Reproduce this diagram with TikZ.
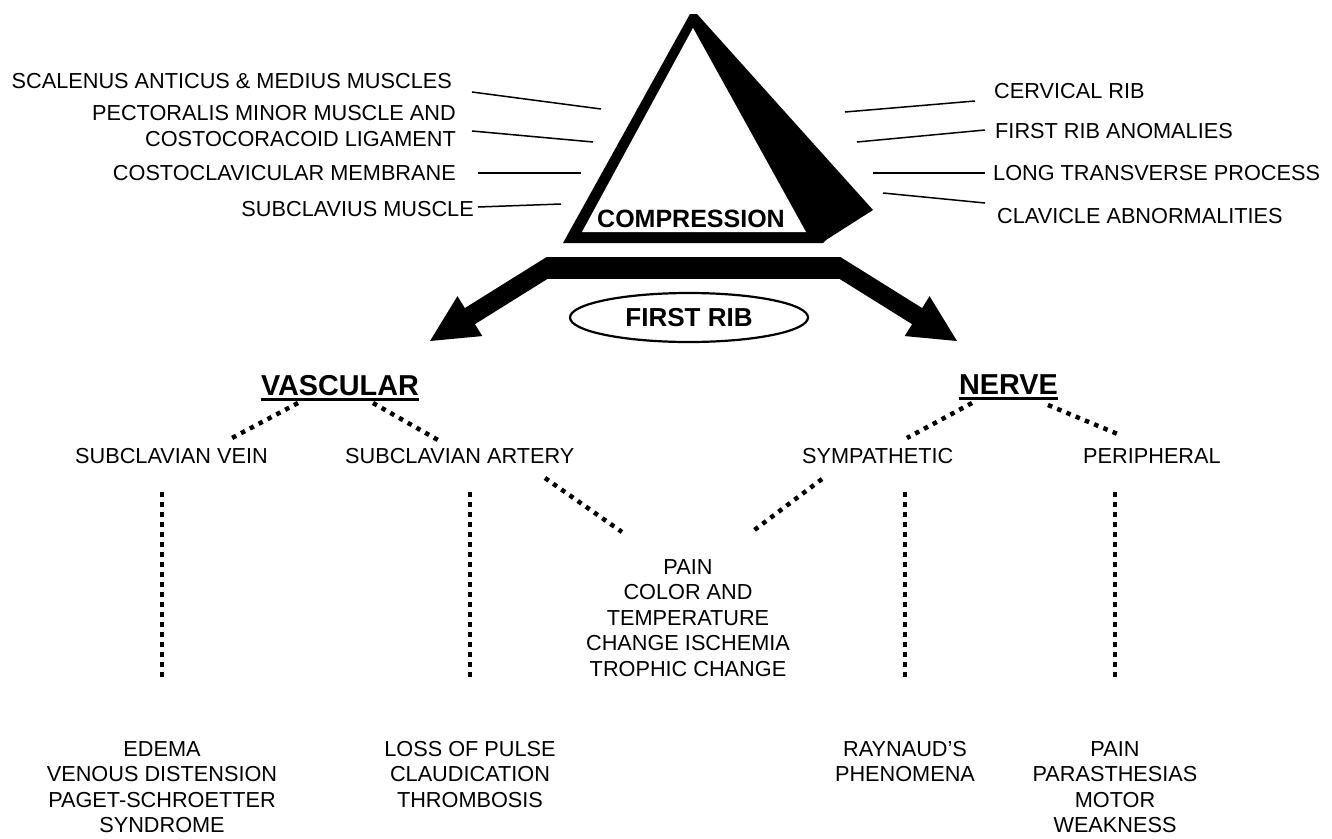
\documentclass[tikz,border=0pt]{standalone}
\usepackage{fontspec}
\setmainfont{Liberation Sans}
\usetikzlibrary{calc,shapes.geometric}
\begin{document}
\begin{tikzpicture}[x=1pt,y=-1pt,
  lbl/.style={inner sep=0pt, font=\fontsize{21.7}{25.5}\selectfont},
  blk/.style={lbl, align=center, anchor=north},
  hdr/.style={inner sep=0pt, font=\bfseries\fontsize{28.8}{30}\selectfont, anchor=base},
  lead/.style={line width=1.5pt},
  dots/.style={line width=4.5pt, dash pattern=on 4.5pt off 5.5pt},
  shaft/.style={line width=19pt},
]
\useasboundingbox (0,0) rectangle (1332,838);
% triangle
\fill (690,14) -- (697,14) -- (873,210) -- (826,240) -- (823,243) -- (563,243) -- cycle;
\fill[white] (693,28) -- (806,232) -- (582,232) -- cycle;
\node[inner sep=0pt, font=\bfseries\fontsize{25}{27}\selectfont, anchor=base] (comp) at (691,227) {COMPRESSION};
% left labels
\node[lbl, anchor=base east] (l1) at (452,88) {SCALENUS ANTICUS \& MEDIUS MUSCLES};
\node[lbl, anchor=base east, align=right] (l2) at (456,146) {PECTORALIS MINOR MUSCLE AND\\COSTOCORACOID LIGAMENT};
\node[lbl, anchor=base east] (l3) at (456,180) {COSTOCLAVICULAR MEMBRANE};
\node[lbl, anchor=base east] (l4) at (474,216) {SUBCLAVIUS MUSCLE};
\coordinate (l1e) at (601,109);
\coordinate (l2e) at (593,142);
\coordinate (l3e) at (581,173);
\coordinate (l4e) at (561,204);
\draw[lead] (472,92) coordinate (l1s) -- (l1e);
\draw[lead] (472,131) coordinate (l2s) -- (l2e);
\draw[lead] (478,173) coordinate (l3s) -- (l3e);
\draw[lead] (478,207) coordinate (l4s) -- (l4e);
% right labels
\node[lbl, anchor=base west] (r1) at (994,98) {CERVICAL RIB};
\node[lbl, anchor=base west] (r2) at (995,138) {FIRST RIB ANOMALIES};
\node[lbl, anchor=base west] (r3) at (993,180) {LONG TRANSVERSE PROCESS};
\node[lbl, anchor=base west] (r4) at (997,223) {CLAVICLE ABNORMALITIES};
\draw[lead] (845,112) coordinate (r1e) -- (975,101) coordinate (r1s);
\draw[lead] (857,142) coordinate (r2e) -- (985,130) coordinate (r2s);
\draw[lead] (873,173) coordinate (r3e) -- (985,173) coordinate (r3s);
\draw[lead] (883,193) coordinate (r4e) -- (985,203) coordinate (r4s);
% bar and arrows
\node[fill, inner sep=0pt, minimum width=293pt, minimum height=22pt] (bar) at (693.5,268) {};
\coordinate (tipL) at (430,341);
\coordinate (tipR) at (957,341);
\coordinate (bl) at (547,268);
\coordinate (br) at (840,268);
\begin{scope}
\clip (0,257) rectangle (1332,838);
\draw[shaft] ($(bl)!-15pt!(tipL)$) -- ($(tipL)!44pt!(bl)$);
\draw[shaft] ($(br)!-15pt!(tipR)$) -- ($(tipR)!44pt!(br)$);
\end{scope}
\coordinate (hbL) at ($(tipL)!47pt!(bl)$);
\fill (tipL) -- ($(hbL)!23.5pt!90:(tipL)$) -- ($(hbL)!23.5pt!-90:(tipL)$) -- cycle;
\coordinate (hbR) at ($(tipR)!47pt!(br)$);
\fill (tipR) -- ($(hbR)!23.5pt!90:(tipR)$) -- ($(hbR)!23.5pt!-90:(tipR)$) -- cycle;
% first rib
\node[ellipse, draw, line width=2.2pt, minimum width=238pt, minimum height=49pt, inner sep=0pt,
  font=\bfseries\fontsize{26}{28}\selectfont] (rib) at (689,317.5) {FIRST RIB};
% headers
\node[hdr] (vasc) at (340,395) {VASCULAR};
\draw[line width=3pt] ($(vasc.base west)+(0,4)$) -- ($(vasc.base east)+(0,4)$);
\node[hdr] (nerve) at (1008.5,394) {NERVE};
\draw[line width=3pt] ($(nerve.base west)+(0,4)$) -- ($(nerve.base east)+(0,4)$);
% middle row
\node[lbl, anchor=base west] (vein) at (75,463) {SUBCLAVIAN VEIN};
\node[lbl, anchor=base west] (artery) at (345,463) {SUBCLAVIAN ARTERY};
\node[lbl, anchor=base west] (symp) at (802,463) {SYMPATHETIC};
\node[lbl, anchor=base west] (periph) at (1083,463) {PERIPHERAL};
\draw[dots] (298,403) -- (232,438);
\draw[dots] (373,403) -- (438,440);
\draw[dots] (972,403) -- (907,438);
\draw[dots] (1048,405) -- (1120,435);
% pain block
\node[blk] (pain) at (688,559) {PAIN\\COLOR AND\\TEMPERATURE\\CHANGE ISCHEMIA\\TROPHIC CHANGE};
\draw[dots] (545,478) -- (622,532);
\draw[dots] (822,479) -- (753,531);
% verticals
\draw[dots] (162,492) -- (162,682);
\draw[dots] (470,492) -- (470,682);
\draw[dots] (905,492) -- (905,682);
\draw[dots] (1115,492) -- (1115,682);
% bottom blocks
\node[blk] (b1) at (162,741) {EDEMA\\VENOUS DISTENSION\\PAGET-SCHROETTER\\SYNDROME};
\node[blk] (b2) at (470,741) {LOSS OF PULSE\\CLAUDICATION\\THROMBOSIS};
\node[blk] (b3) at (905,741) {RAYNAUD’S\\PHENOMENA};
\node[blk] (b4) at (1115,741) {PAIN\\PARASTHESIAS\\MOTOR\\WEAKNESS};
\end{tikzpicture}
\end{document}
